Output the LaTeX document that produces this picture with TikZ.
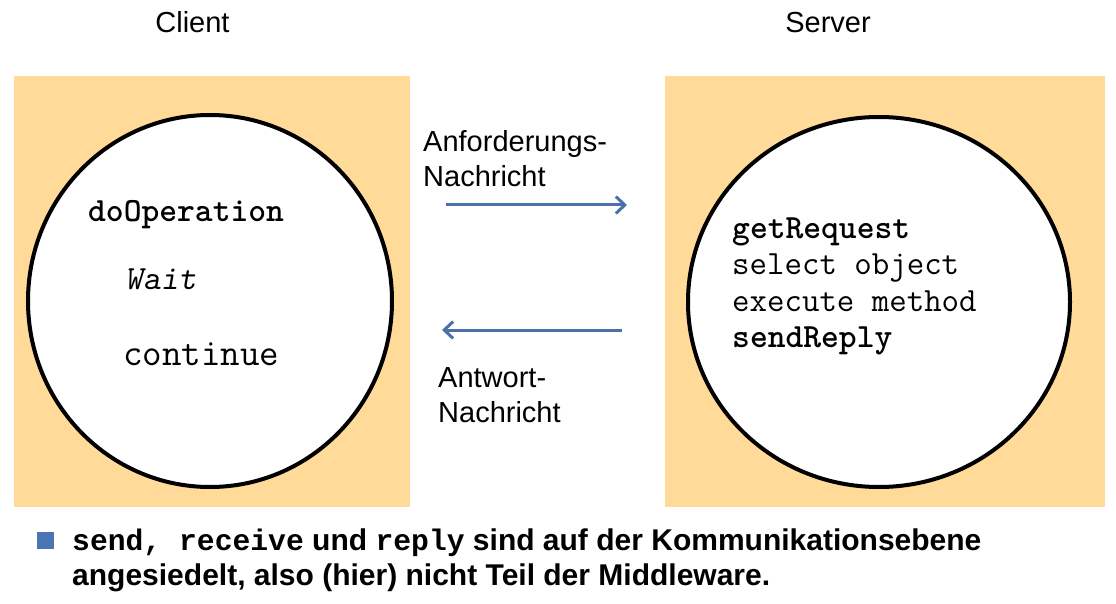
\documentclass[tikz,border=0pt]{standalone}
\usepackage{fontspec}
\setmainfont{Liberation Sans}
\newfontfamily\notemono{Liberation Mono}
\usetikzlibrary{arrows.meta,shapes.geometric}
\definecolor{boxfill}{RGB}{255,218,153}
\definecolor{arrblue}{RGB}{74,114,168}
\definecolor{bulletblue}{RGB}{74,116,180}
\newcommand{\boldmono}[1]{{\fontsize{29.7}{35}\notemono\bfseries #1}}
\begin{document}
\begin{tikzpicture}[x=1pt,y=-1pt,
  sanslbl/.style={inner sep=0pt,font=\fontsize{29}{35}\selectfont},
  codelbl/.style={inner sep=0pt,anchor=base west,font=\fontsize{33.9}{40}\ttfamily},
  boldcode/.style={codelbl,font=\fontsize{33.9}{40}\ttfamily\bfseries},
  procbox/.style={fill=boxfill,draw=none},
  proccircle/.style={ellipse,draw=black,line width=4pt,fill=white,inner sep=0pt},
  msgarrow/.style={draw=arrblue,line width=3pt,-{Straight Barb[length=9pt,width=17pt,line width=3pt]}}
]
\useasboundingbox (0,0) rectangle (1116,604);
\fill[white] (0,0) rectangle (1116,604);
% headings
\node[sanslbl,anchor=base] (client) at (192.5,33) {Client};
\node[sanslbl,anchor=base] (server) at (828,33) {Server};
% boxes
\fill[procbox] (14,76) rectangle (410,507);
\fill[procbox] (665,76) rectangle (1105,507);
\node[proccircle,minimum width=364pt,minimum height=372pt] (cc) at (210,301) {};
\node[proccircle,minimum width=382pt,minimum height=370pt] (sc) at (879,302) {};
% client text
\node[boldcode] (doop) at (88,222) {doOperation};
\node[codelbl,font=\fontsize{33.9}{40}\ttfamily\slshape] (wait) at (125,289) {Wait};
\node[codelbl,font=\fontsize{37.9}{44}\ttfamily] (cont) at (123,365) {continue};
% server text
\node[boldcode] (getreq) at (732,238) {getRequest};
\node[codelbl] (selobj) at (732,274) {select object};
\node[codelbl] (exmeth) at (732,311) {execute method};
\node[boldcode] (sendrep) at (732,347) {sendReply};
% message labels
\node[sanslbl,anchor=base west] (anf1) at (423,152) {Anforderungs-};
\node[sanslbl,anchor=base west] (anf2) at (423,187) {Nachricht};
\node[sanslbl,anchor=base west] (ant1) at (438,387) {Antwort-};
\node[sanslbl,anchor=base west] (ant2) at (438,422) {Nachricht};
% arrows
\coordinate (req1) at (446,205);
\coordinate (req2) at (627,205);
\coordinate (rep1) at (622,330);
\coordinate (rep2) at (442,330);
\draw[msgarrow] (req1) -- (req2);
\draw[msgarrow] (rep1) -- (rep2);
% bullet
\fill[bulletblue] (37,532) rectangle (54,549);
\node[inner sep=0pt,anchor=base west,font=\fontsize{30}{35}\selectfont\bfseries] (note1) at (72,550)
  {\boldmono{send,~receive} und \boldmono{reply} sind auf der Kommunikationsebene};
\node[inner sep=0pt,anchor=base west,font=\fontsize{30}{35}\selectfont\bfseries] (note2) at (72,585)
  {angesiedelt, also (hier) nicht Teil der Middleware.};
\end{tikzpicture}
\end{document}
